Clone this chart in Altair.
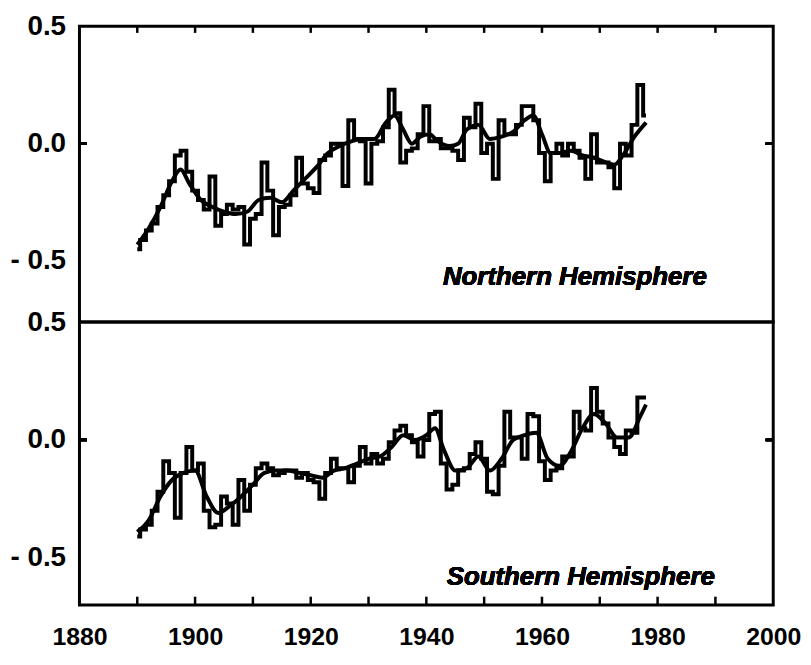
import altair as alt
import pandas as pd

years = list(range(1890, 1979))

nh_annual = [
    -0.45, -0.41, -0.37, -0.34, -0.27, -0.22, -0.16, -0.05, -0.03, -0.12,
    -0.20, -0.24, -0.28, -0.14, -0.35, -0.30, -0.26, -0.28, -0.27, -0.43,
    -0.32, -0.30, -0.08, -0.20, -0.39, -0.27, -0.26, -0.22, -0.06, -0.17,
    -0.19, -0.21, -0.07, -0.05, 0.00, 0.00, -0.18, 0.10, 0.02, 0.01,
    -0.17, 0.00, 0.01, 0.07, 0.23, 0.13, -0.08, -0.03, -0.02, 0.04,
    0.16, 0.01, 0.02, -0.02, -0.02, -0.03, -0.07, 0.11, 0.07, 0.17,
    -0.04, 0.00, -0.15, 0.10, 0.04, 0.04, 0.08, 0.16, 0.16, 0.10,
    -0.04, -0.16, -0.04, 0.00, -0.05, 0.00, -0.03, -0.06, -0.15, 0.04,
    -0.08, -0.08, -0.10, -0.19, 0.00, -0.05, 0.08, 0.25, 0.12,
]

sh_annual = [
    -0.41, -0.38, -0.36, -0.30, -0.22, -0.09, -0.14, -0.33, -0.14, -0.03,
    -0.13, -0.10, -0.30, -0.37, -0.36, -0.24, -0.27, -0.36, -0.17, -0.30,
    -0.19, -0.12, -0.10, -0.12, -0.15, -0.14, -0.13, -0.13, -0.16, -0.14,
    -0.17, -0.18, -0.25, -0.14, -0.08, -0.12, -0.12, -0.18, -0.11, -0.03,
    -0.10, -0.06, -0.10, -0.08, -0.01, 0.04, 0.06, 0.02, -0.01, -0.07,
    0.00, 0.11, 0.12, -0.10, -0.21, -0.19, -0.13, -0.12, -0.06, -0.01,
    -0.08, -0.22, -0.23, -0.11, 0.12, 0.01, 0.01, -0.08, 0.11, 0.10,
    -0.09, -0.17, -0.13, -0.12, -0.07, -0.07, 0.12, 0.05, 0.04, 0.22,
    0.12, 0.07, 0.01, -0.03, -0.06, 0.04, 0.03, 0.18, 0.18,
]

nh_smooth_years = [1890, 1892, 1894, 1896, 1897.5, 1899, 1901, 1903, 1905, 1907,
                   1909, 1911, 1913, 1915, 1917, 1919, 1921, 1923, 1925, 1927,
                   1929, 1931, 1933, 1934.5, 1936, 1937.5, 1939, 1940.5, 1942, 1944,
                   1945.5, 1947, 1949, 1951, 1953, 1955, 1957, 1958.5, 1960, 1961.5,
                   1963, 1965, 1967, 1969, 1971, 1972.5, 1974, 1976, 1978]
nh_smooth = [-0.43, -0.36, -0.27, -0.16, -0.11, -0.17, -0.24, -0.27, -0.29, -0.30,
             -0.29, -0.24, -0.23, -0.25, -0.20, -0.15, -0.10, -0.04, -0.01, 0.01,
             0.02, 0.02, 0.09, 0.12, 0.06, 0.00, 0.03, 0.04, 0.01, -0.01,
             0.00, 0.06, 0.08, 0.02, 0.03, 0.05, 0.10, 0.12, 0.04, -0.04,
             -0.04, -0.03, -0.05, -0.06, -0.08, -0.09, -0.05, 0.03, 0.09]

sh_smooth_years = [1890, 1892, 1894, 1896, 1898, 1900, 1902, 1904, 1906, 1908,
                   1910, 1912, 1914, 1916, 1918, 1920, 1922, 1924, 1926, 1928,
                   1930, 1932, 1934, 1936, 1938, 1940, 1941.5, 1943, 1945, 1947,
                   1949, 1951, 1953, 1955, 1957, 1959, 1961, 1963, 1965, 1967,
                   1969, 1971, 1973, 1975, 1977, 1978]
sh_smooth = [-0.39, -0.34, -0.24, -0.17, -0.14, -0.13, -0.24, -0.31, -0.28, -0.24,
             -0.19, -0.14, -0.13, -0.13, -0.14, -0.15, -0.16, -0.13, -0.12, -0.10,
             -0.08, -0.07, -0.03, 0.02, 0.00, 0.02, 0.05, -0.04, -0.13, -0.12,
             -0.07, -0.13, -0.08, 0.00, 0.02, 0.03, -0.08, -0.11, -0.05, 0.05,
             0.11, 0.07, 0.01, 0.01, 0.10, 0.15]

tick_years = list(range(1890, 2000, 10))
label_years = list(range(1880, 2001, 20))
y_label_values = [0.5, 0.0, -0.5]

FONT = "Liberation Sans"
W = 699
LINE_W = 4


def panel(annual, sm_years, sm_vals, ymin, height, title, title_x, title_y, bottom):
    xs = alt.Scale(domain=[1880, 2000], nice=False, zero=False)
    ys = alt.Scale(domain=[ymin, 0.5], nice=False, zero=False)
    if bottom:
        xaxis = alt.Axis(values=label_years, format="d", ticks=False, domain=False,
                         grid=False, title=None, labelFont=FONT, labelFontWeight="bold",
                         labelFontSize=25, labelColor="black", labelPadding=20,
                         labelFlush=False)
    else:
        xaxis = None
    yaxis = alt.Axis(values=y_label_values, ticks=False, domain=False, grid=False,
                     title=None, labelFont=FONT, labelFontWeight="bold", labelFontSize=28,
                     labelColor="black", labelPadding=14, minExtent=70, maxExtent=70,
                     labelExpr="datum.value > 0.01 ? '0.5' : (datum.value < -0.01 ? '- 0.5' : '0.0')")

    ann = pd.DataFrame({"year": years, "value": annual})
    sm = pd.DataFrame({"year": sm_years, "value": sm_vals})
    tk = pd.DataFrame({"year": tick_years})

    step = alt.Chart(ann).mark_line(interpolate="step", color="black",
                                    strokeWidth=LINE_W).encode(
        x=alt.X("year:Q", scale=xs, axis=xaxis),
        y=alt.Y("value:Q", scale=ys, axis=yaxis),
    )
    smooth = alt.Chart(sm).mark_line(interpolate="monotone", color="black",
                                     strokeWidth=LINE_W).encode(
        x=alt.X("year:Q", scale=xs),
        y=alt.Y("value:Q", scale=ys),
    )
    if bottom:
        t0, t1 = ymin, ymin + 0.035
    else:
        t0, t1 = 0.5, 0.5 - 0.028
    ticks = alt.Chart(tk).mark_rule(color="black", strokeWidth=2.5).encode(
        x=alt.X("year:Q", scale=xs),
        y=alt.datum(t0),
        y2=alt.datum(t1),
    )
    lt = alt.Chart(tk).mark_rule(color="black", strokeWidth=2.5).encode(
        x=alt.datum(1880), x2=alt.datum(1881.3), y=alt.datum(0.0))
    rt = alt.Chart(tk).mark_rule(color="black", strokeWidth=2.5).encode(
        x=alt.datum(1998.7), x2=alt.datum(2000), y=alt.datum(0.0))
    txt = alt.Chart(tk).mark_text(text=title, font=FONT, fontStyle="italic",
                                  fontWeight="bold", fontSize=26, align="right",
                                  baseline="middle", color="black").encode(
        x=alt.datum(title_x), y=alt.datum(title_y))
    return alt.layer(step, smooth, ticks, lt, rt, txt).properties(width=W, height=height)


top = panel(nh_annual, nh_smooth_years, nh_smooth, -0.76, 298,
            "Northern Hemisphere", 1988.5, -0.57, False)
bot = panel(sh_annual, sh_smooth_years, sh_smooth, -0.70, 285,
            "Southern Hemisphere", 1989.9, -0.58, True)

chart = alt.vconcat(top, bot, spacing=0, bounds="flush").properties(
    padding={"left": 0, "top": 0, "right": 0, "bottom": 0},
    background="white",
).configure_view(stroke="black", strokeWidth=3)

chart.save("out.html", embed_options={"renderer": "svg", "actions": False})
